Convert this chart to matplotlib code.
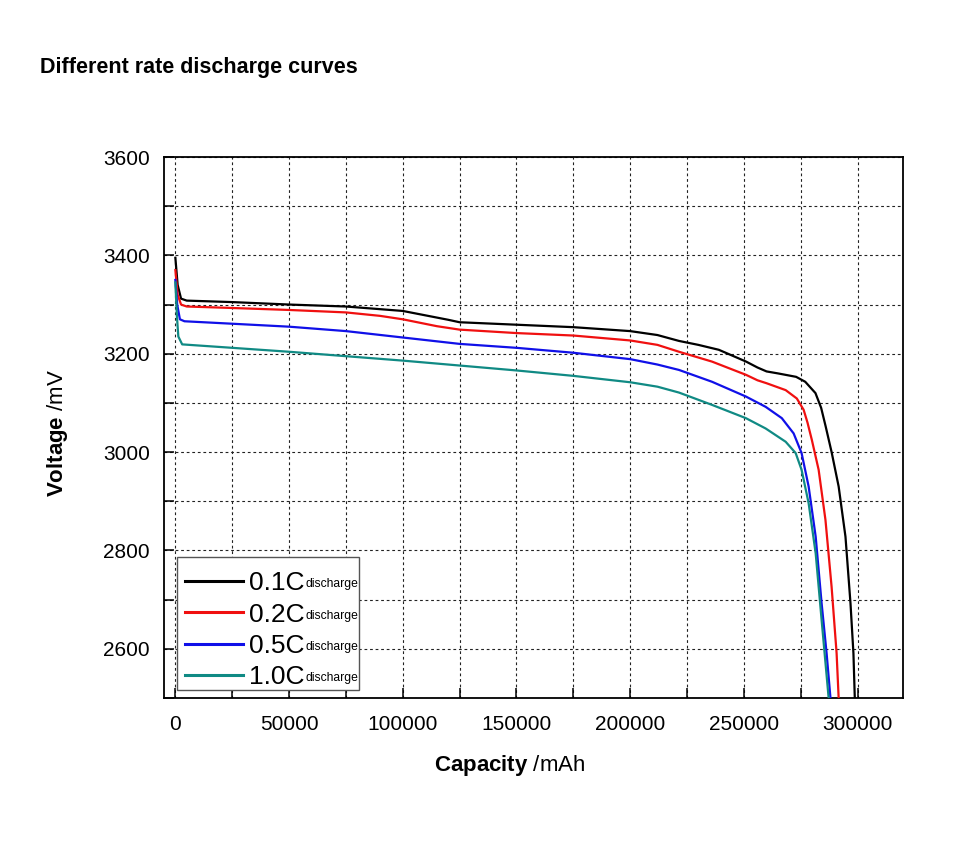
import numpy as np
import matplotlib
matplotlib.use('Agg')
import matplotlib.pyplot as plt
from matplotlib.ticker import MultipleLocator
from matplotlib.patches import Rectangle

plt.rcParams['font.family'] = ['Liberation Sans', 'DejaVu Sans']
plt.rcParams['mathtext.fontset'] = 'custom'
plt.rcParams['mathtext.rm'] = 'Liberation Sans'
plt.rcParams['mathtext.bf'] = 'Liberation Sans:bold'

# capacity (mAh) / voltage (mV)
cap_01 = [0, 1000, 2500, 5000, 25000, 50000, 75000, 100000, 110000, 120000, 125000,
          150000, 175000, 200000, 212000, 221500, 230000, 239000, 245000, 251000,
          256000, 260000, 265000, 273000, 277000, 281500, 284000, 286000, 288600,
          291700, 294700, 296900, 298200, 298800]
volt_01 = [3395, 3340, 3312, 3308, 3305, 3300, 3296, 3287, 3278, 3269, 3264,
           3259, 3254, 3246, 3238, 3226, 3218, 3208, 3196, 3184,
           3172, 3164, 3160, 3153, 3143, 3120, 3090, 3052, 3000,
           2930, 2828, 2693, 2591, 2500]

cap_02 = [0, 1000, 2500, 5000, 25000, 50000, 75000, 90000, 100000, 115000, 125000,
          150000, 175000, 200000, 212000, 221500, 236000, 251000, 256000, 260000,
          268400, 273300, 276300, 278000, 279900, 282900, 285900, 288600, 290800, 291700]
volt_02 = [3370, 3320, 3300, 3296, 3293, 3289, 3284, 3277, 3270, 3256, 3249,
           3242, 3237, 3227, 3218, 3204, 3184, 3157, 3146, 3140,
           3126, 3109, 3086, 3060, 3025, 2964, 2862, 2726, 2591, 2500]

cap_05 = [0, 800, 2000, 4000, 25000, 50000, 75000, 100000, 125000, 150000, 175000,
          200000, 212000, 221500, 236000, 250900, 259600, 266700, 271900, 275400,
          278500, 281600, 284200, 286400, 288100]
volt_05 = [3350, 3300, 3270, 3266, 3261, 3255, 3246, 3233, 3220, 3212, 3202,
           3189, 3178, 3167, 3143, 3113, 3092, 3069, 3038, 2998,
           2930, 2828, 2693, 2591, 2500]

cap_10 = [0, 700, 1300, 3000, 25000, 50000, 75000, 100000, 125000, 150000, 175000,
          200000, 212000, 221500, 236000, 250900, 259600, 268400, 272800, 275400,
          278500, 281600, 284200, 287300]
volt_10 = [3345, 3275, 3235, 3219, 3212, 3204, 3195, 3186, 3176, 3166, 3155,
           3142, 3133, 3121, 3096, 3069, 3048, 3021, 2998, 2964,
           2896, 2794, 2659, 2500]

rates = ['0.1C', '0.2C', '0.5C', '1.0C']
colors = ['#000000', '#f01010', '#1010e8', '#108a84']

fig = plt.figure(figsize=(9.6, 8.44), dpi=100)
ax = fig.add_axes([164 / 960, 1 - 698 / 844, 739 / 960, 541 / 844])

for c, v, lab, col in zip([cap_01, cap_02, cap_05, cap_10],
                          [volt_01, volt_02, volt_05, volt_10], rates, colors):
    ax.plot(c, v, color=col, lw=1.6, label=lab, zorder=3)

ax.set_xlim(-5000, 320000)
ax.set_ylim(2500, 3600)
ax.set_xticks(np.arange(0, 300001, 50000))
ax.set_xticklabels([str(v) for v in range(0, 300001, 50000)])
ax.xaxis.set_minor_locator(MultipleLocator(25000))
ax.set_yticks(np.arange(2600, 3601, 200))
ax.yaxis.set_minor_locator(MultipleLocator(100))
ax.tick_params(which='both', direction='in', length=7, width=1.1,
               top=False, right=False)
ax.tick_params(axis='x', labelsize=15, pad=12)
ax.tick_params(axis='y', labelsize=15, pad=10)
ax.grid(which='both', color='#222222', linestyle=(0, (2.5, 2.5)), lw=0.8)
for s in ax.spines.values():
    s.set_linewidth(1.3)

# legend box
box = Rectangle((13 / 739, 8 / 541), 182 / 739, 133 / 541, transform=ax.transAxes,
                facecolor='white', edgecolor='#555555', lw=1.0, zorder=4)
ax.add_patch(box)
leg = ax.legend(loc='upper left', bbox_to_anchor=(8 / 739, 1 - 401 / 541),
                borderaxespad=0, frameon=False, fontsize=19, handlelength=2.2,
                handletextpad=0.2, labelspacing=0.28, borderpad=0.5)
leg.set_zorder(5)
for line in leg.get_lines():
    line.set_linewidth(2.2)

fig.canvas.draw()
for t in leg.get_texts():
    bb = t.get_window_extent()
    x, y = fig.transFigure.inverted().transform((bb.x1 + 1, bb.y0 + 8))
    fig.text(x, y, 'discharge', fontsize=8.7, ha='left', va='baseline', zorder=6)

fig.text(40 / 960, 1 - 67 / 844, 'Different rate discharge curves',
         fontweight='bold', fontsize=15.5, ha='left', va='center')
fig.text(510 / 960, 1 - 766 / 844, r'$\mathbf{Capacity}$ /mAh', fontsize=16,
         ha='center', va='center')
fig.text(57 / 960, 1 - 433 / 844, r'$\mathbf{Voltage}$ /mV', fontsize=16,
         ha='center', va='center', rotation=90)

fig.savefig('out.png', dpi=100)
